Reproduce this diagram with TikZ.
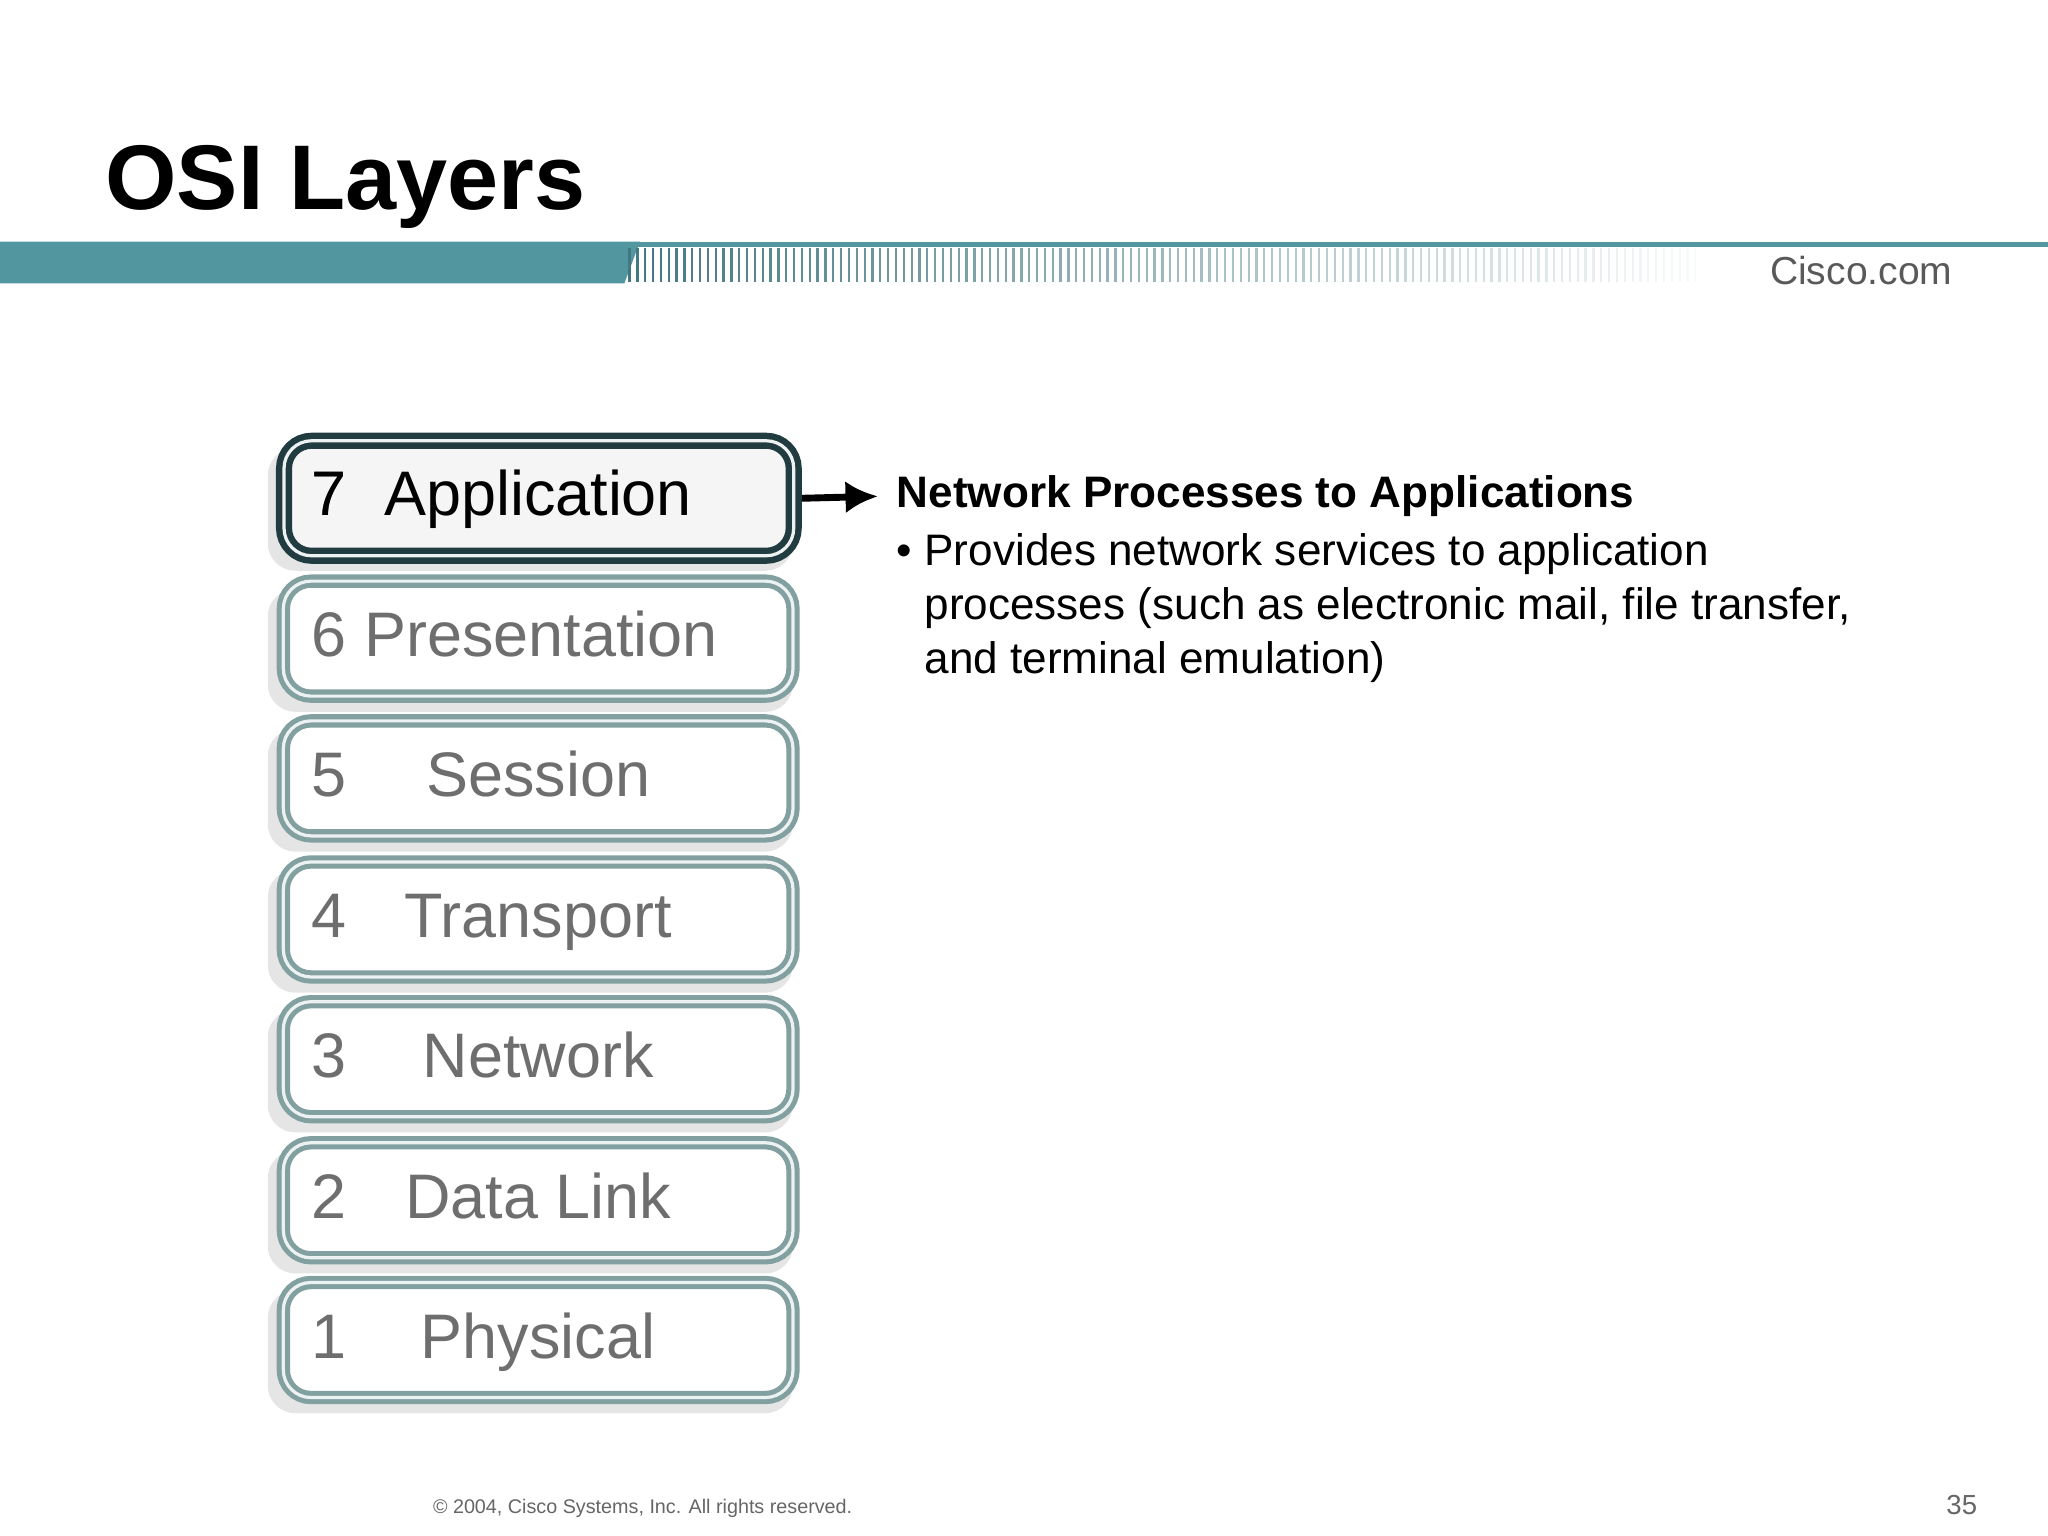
\documentclass[tikz,border=0pt]{standalone}
\usepackage{fontspec}
\setmainfont{Liberation Sans}
\usetikzlibrary{arrows.meta}
\definecolor{teal1}{RGB}{82,150,160}
\definecolor{boxedge}{RGB}{130,160,160}
\definecolor{boxtxt}{RGB}{110,110,110}
\tikzset{
 layer/.style={draw=boxedge, line width=1.1pt, rounded corners=6pt, fill=white,
   minimum width=3.9cm, minimum height=0.88cm, anchor=north west,
   double=white!85!boxedge, double distance=0.7pt},
 shade/.style={fill=black!10, rounded corners=6pt},
 ltxt/.style={font=\fontsize{13.7}{15}\selectfont, text=boxtxt, inner sep=0pt},
}
\begin{document}
\begin{tikzpicture}[x=0.01cm,y=-0.01cm]
\useasboundingbox (0,0) rectangle (1568,1176);
\fill[white] (0,0) rectangle (1568,1176);
\node[anchor=west, font=\fontsize{20}{22}\selectfont\bfseries, inner sep=0pt] (title) at (80,143) {OSI Layers};
% band
\fill[teal1] (0,185) rectangle (1568,189);
\fill[teal1] (0,185) -- (490,185) -- (478,217) -- (0,217) -- cycle;
\foreach \i in {0,...,136} {
  \pgfmathsetmacro{\xx}{482+\i*6}
  \pgfmathsetmacro{\op}{max(0,1-\i/140)}
  \draw[teal1!80!black, line width=0.5pt, opacity=\op] (\xx,190) -- (\xx,216);
}
\node[font=\fontsize{8.5}{10}\selectfont, text=black!65] (cisco) at (1425,207) {Cisco.com};
% layers
\foreach \n/\y in {7/335,6/443,5/550,4/658,3/765,2/873,1/980} {
  \fill[shade] (205,\y+8) rectangle (607,\y+102);
}
\foreach \n/\y in {6/443,5/550,4/658,3/765,2/873,1/980} {
  \node[layer] (L\n) at (215,\y) {};
}
\node[layer, draw=black!60!teal1, fill=black!4, line width=1.4pt] (L7) at (215,335) {};
\foreach \n/\y/\lab in {7/335/{},5/550/{Session},4/658/{Transport},3/765/{Network},2/873/{Data Link},1/980/{Physical}} {
  \node[ltxt, anchor=base west] (N\n) at (238,\y+60) {\n};
  \node[ltxt, anchor=base] (T\n) at (412,\y+60) {\lab};
}
\node[ltxt, text=black, anchor=base] (T7b) at (412,395) {Application};
\node[ltxt, text=black, anchor=base west] (N7b) at (238,395) {7};
\node[ltxt, anchor=base west] (T6) at (238,503) {6 Presentation};
% arrow and text
\draw[-{Latex[length=7pt,width=7pt]}, line width=1.5pt] (L7.east) ++(4,0) coordinate (a0) -- (672,380) coordinate (a1);
\node[anchor=west, font=\fontsize{9.6}{11}\selectfont\bfseries, inner sep=0pt] (h) at (686,380) {Network Processes to Applications};
\node[anchor=north west, font=\fontsize{9.6}{11.7}\selectfont, align=left, inner sep=0pt] (b) at (686,408)
 {• Provides network services to application\\
 \phantom{• }processes (such as electronic mail, file transfer,\\
 \phantom{• }and terminal emulation)};
\node[font=\fontsize{4.3}{5}\selectfont, text=black!60] (foot) at (492,1155) {© 2004, Cisco Systems, Inc. All rights reserved.};
\node[font=\fontsize{6}{7}\selectfont, text=black!60] (pg) at (1502,1152) {35};
\end{tikzpicture}
\end{document}
